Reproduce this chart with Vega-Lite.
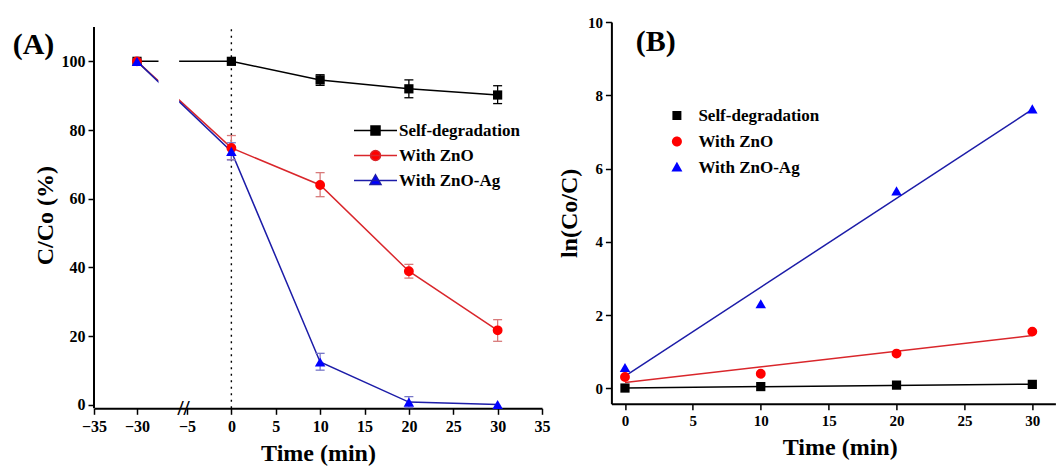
{
  "$schema": "https://vega.github.io/schema/vega-lite/v6.json",
  "background": "white",
  "autosize": {"type": "pad"},
  "padding": {"left": 12, "top": 15, "right": 0, "bottom": 0},
  "spacing": 69.4,
  "bounds": "flush",
  "config": {
    "font": "Liberation Serif",
    "view": {"stroke": null},
    "axis": {
      "labelFont": "Liberation Serif", "labelFontWeight": "bold", "labelFontSize": 15, "labelColor": "#000000",
      "titleFont": "Liberation Serif", "titleFontWeight": "bold", "titleFontSize": 24, "titleColor": "#000000",
      "domainColor": "#000000", "domainWidth": 2, "tickColor": "#000000", "tickWidth": 1.5, "tickSize": 6,
      "grid": false, "labelOverlap": false, "labelFlush": false, "labelPadding": 3
    },
    "legend": {
      "padding": 0,
      "labelFont": "Liberation Serif", "labelFontWeight": "bold", "labelFontSize": 17, "labelColor": "#000000",
      "symbolSize": 100, "labelOffset": 15, "rowPadding": 7
    }
  },
  "datasets": {
    "a_main": [
      {"series": "Self-degradation", "t": -30, "v": 100},
      {"series": "Self-degradation", "t": 0, "v": 100},
      {"series": "Self-degradation", "t": 10, "v": 94.6},
      {"series": "Self-degradation", "t": 20, "v": 92.0},
      {"series": "Self-degradation", "t": 30, "v": 90.2},
      {"series": "With ZnO", "t": -30, "v": 100},
      {"series": "With ZnO", "t": 0, "v": 74.8},
      {"series": "With ZnO", "t": 10, "v": 64.0},
      {"series": "With ZnO", "t": 20, "v": 38.9},
      {"series": "With ZnO", "t": 30, "v": 21.7},
      {"series": "With ZnO-Ag", "t": -30, "v": 100},
      {"series": "With ZnO-Ag", "t": 0, "v": 73.8},
      {"series": "With ZnO-Ag", "t": 10, "v": 12.5},
      {"series": "With ZnO-Ag", "t": 20, "v": 0.8},
      {"series": "With ZnO-Ag", "t": 30, "v": 0.1}
    ],
    "a_err": [
      {"series": "Self-degradation", "t": 10, "lo": 93.0, "hi": 96.1},
      {"series": "Self-degradation", "t": 20, "lo": 89.4, "hi": 94.6},
      {"series": "Self-degradation", "t": 30, "lo": 87.7, "hi": 92.9},
      {"series": "With ZnO", "t": 0, "lo": 71.4, "hi": 78.4},
      {"series": "With ZnO", "t": 10, "lo": 60.6, "hi": 67.6},
      {"series": "With ZnO", "t": 20, "lo": 36.9, "hi": 40.9},
      {"series": "With ZnO", "t": 30, "lo": 18.5, "hi": 24.8},
      {"series": "With ZnO-Ag", "t": 0, "lo": 71.3, "hi": 76.3},
      {"series": "With ZnO-Ag", "t": 10, "lo": 10.1, "hi": 15.0},
      {"series": "With ZnO-Ag", "t": 20, "lo": -0.8, "hi": 2.4}
    ],
    "b_main": [
      {"series": "Self-degradation", "t": 0, "v": 0.01},
      {"series": "Self-degradation", "t": 10, "v": 0.05},
      {"series": "Self-degradation", "t": 20, "v": 0.09},
      {"series": "Self-degradation", "t": 30, "v": 0.11},
      {"series": "With ZnO", "t": 0, "v": 0.31},
      {"series": "With ZnO", "t": 10, "v": 0.40},
      {"series": "With ZnO", "t": 20, "v": 0.95},
      {"series": "With ZnO", "t": 30, "v": 1.55},
      {"series": "With ZnO-Ag", "t": 0, "v": 0.57},
      {"series": "With ZnO-Ag", "t": 10, "v": 2.31},
      {"series": "With ZnO-Ag", "t": 20, "v": 5.39},
      {"series": "With ZnO-Ag", "t": 30, "v": 7.63}
    ]
  },
  "resolve": {
    "scale": {"color": "independent", "fill": "independent", "shape": "independent", "size": "independent", "stroke": "independent"},
    "legend": {"fill": "independent", "color": "independent", "shape": "independent", "size": "independent", "stroke": "independent"}
  },
  "hconcat": [
    {
      "width": 448,
      "height": 386.3,
      "layer": [
        {
          "data": {"values": [{"t": 0, "lo": -1, "hi": 110}]},
          "mark": {"type": "rule", "color": "#000000", "strokeWidth": 1.4, "strokeDash": [2, 4.5]},
          "encoding": {
            "x": {"field": "t", "type": "quantitative", "scale": {"domain": [-35, -25, -5, 35], "range": [0, 86, 93, 448], "nice": false, "zero": false},
              "axis": {
                "title": "Time (min)", "titlePadding": 7, "labelPadding": 4, "labelFontSize": 16,
                "values": [-35, -32.5, -30, -27.5, -5, -2.5, 0, 2.5, 5, 7.5, 10, 12.5, 15, 17.5, 20, 22.5, 25, 27.5, 30, 32.5, 35],
                "labelExpr": "datum.value % 5 === 0 ? datum.label : ''",
                "encoding": {"ticks": {"y2": {"condition": {"test": "datum.value % 5 === 0", "value": 6}, "value": 3}}}
              }},
            "y": {"field": "lo", "type": "quantitative", "scale": {"domain": [-1, 111.45], "nice": false, "zero": false},
              "axis": {
                "title": "C/Co (%)", "titlePadding": 4, "domain": false, "labelFontSize": 16,
                "values": [0, 10, 20, 30, 40, 50, 60, 70, 80, 90, 100, 110],
                "labelExpr": "datum.value % 20 === 0 && datum.value <= 100 ? datum.label : ''",
                "encoding": {"ticks": {"x2": {"condition": {"test": "datum.value % 20 === 0", "value": -6}, "value": -3}}}
              }},
            "y2": {"field": "hi"}
          }
        },
        {
          "data": {"values": [{"t": -35, "lo": -1, "hi": 110}]},
          "mark": {"type": "rule", "color": "#000000", "strokeWidth": 2},
          "encoding": {
            "x": {"field": "t", "type": "quantitative"},
            "y": {"field": "lo", "type": "quantitative"},
            "y2": {"field": "hi"}
          }
        },
        {
          "data": {"name": "a_main"},
          "mark": {"type": "line", "strokeWidth": 1.5},
          "encoding": {
            "x": {"field": "t", "type": "quantitative"},
            "y": {"field": "v", "type": "quantitative"},
            "color": {"field": "series", "type": "nominal", "legend": null,
              "scale": {"domain": ["With ZnO-Ag", "With ZnO", "Self-degradation"], "range": ["#1c1ca8", "#d9262b", "#000000"]}}
          }
        },
        {
          "data": {"values": [{"t1": -27.5, "t2": -25.1, "lo": 84, "hi": 103}]},
          "mark": {"type": "rect", "fill": "#ffffff"},
          "encoding": {
            "x": {"field": "t1", "type": "quantitative"},
            "x2": {"field": "t2"},
            "y": {"field": "lo", "type": "quantitative"},
            "y2": {"field": "hi"}
          }
        },
        {
          "data": {"name": "a_err"},
          "mark": {"type": "rule", "strokeWidth": 1.3},
          "encoding": {
            "x": {"field": "t", "type": "quantitative"},
            "y": {"field": "lo", "type": "quantitative"},
            "y2": {"field": "hi"},
            "stroke": {"field": "series", "type": "nominal", "legend": null,
              "scale": {"domain": ["With ZnO-Ag", "With ZnO", "Self-degradation"], "range": ["#7878c8", "#d87a7a", "#000000"]}}
          }
        },
        {
          "data": {"name": "a_err"},
          "mark": {"type": "rule", "strokeWidth": 1.3, "xOffset": -4.5, "x2Offset": 4.5},
          "encoding": {
            "x": {"field": "t", "type": "quantitative"},
            "x2": {"field": "t"},
            "y": {"field": "lo", "type": "quantitative"},
            "stroke": {"field": "series", "type": "nominal", "legend": null}
          }
        },
        {
          "data": {"name": "a_err"},
          "mark": {"type": "rule", "strokeWidth": 1.3, "xOffset": -4.5, "x2Offset": 4.5},
          "encoding": {
            "x": {"field": "t", "type": "quantitative"},
            "x2": {"field": "t"},
            "y": {"field": "hi", "type": "quantitative"},
            "stroke": {"field": "series", "type": "nominal", "legend": null}
          }
        },
        {
          "data": {"name": "a_main"},
          "mark": {"type": "point", "filled": true, "opacity": 1},
          "encoding": {
            "x": {"field": "t", "type": "quantitative"},
            "y": {"field": "v", "type": "quantitative"},
            "fill": {"field": "series", "type": "nominal",
              "scale": {"domain": ["Self-degradation", "With ZnO", "With ZnO-Ag"], "range": ["#000000", "#ff0000", "#0000ff"]},
              "legend": {
                "orient": "none", "legendX": 273, "legendY": 100, "title": null,
                "encoding": {"symbols": {
                  "shape": {"value": {"expr": "datum.value === 'Self-degradation' ? 'M-4.3,0H4.3M-0.9,-0.9H0.9V0.9H-0.9Z' : datum.value === 'With ZnO' ? 'M-4.3,0H4.3M-1,0A1,1,0,1,1,1,0A1,1,0,1,1,-1,0Z' : 'M-4.3,0H4.3M0,-1.15L1.1,0.8H-1.1Z'"}},
                  "fill": {"value": {"expr": "datum.value === 'Self-degradation' ? '#000000' : datum.value === 'With ZnO' ? '#ff0000' : '#0000ff'"}},
                  "stroke": {"value": {"expr": "datum.value === 'Self-degradation' ? '#000000' : datum.value === 'With ZnO' ? '#d9262b' : '#1c1ca8'"}},
                  "strokeWidth": {"value": 1.5}
                }}
              }},
            "shape": {"field": "series", "type": "nominal", "legend": null,
              "scale": {"domain": ["With ZnO-Ag", "With ZnO", "Self-degradation"], "range": ["triangle-up", "circle", "square"]}},
            "size": {"field": "series", "type": "nominal", "legend": null,
              "scale": {"domain": ["With ZnO-Ag", "With ZnO", "Self-degradation"], "range": [110, 85, 80]}}
          }
        },
        {
          "data": {"values": [{"t": -15, "v": -1, "s": "//"}]},
          "mark": {"type": "text", "fontSize": 22, "fontWeight": "bold", "align": "center", "baseline": "middle", "color": "#000000"},
          "encoding": {
            "x": {"field": "t", "type": "quantitative"},
            "y": {"field": "v", "type": "quantitative"},
            "text": {"field": "s"}
          }
        },
        {
          "data": {"values": [{"t": -35, "v": 110, "s": "(A)"}]},
          "mark": {"type": "text", "fontSize": 30, "fontWeight": "bold", "align": "left", "baseline": "alphabetic", "dx": -81.3, "dy": 26.8, "color": "#000000"},
          "encoding": {
            "x": {"field": "t", "type": "quantitative"},
            "y": {"field": "v", "type": "quantitative"},
            "text": {"field": "s"}
          }
        }
      ]
    },
    {
      "width": 444,
      "height": 381.8,
      "layer": [
        {
          "data": {"name": "b_main"},
          "transform": [{"regression": "v", "on": "t", "groupby": ["series"]}],
          "mark": {"type": "line", "strokeWidth": 1.5},
          "encoding": {
            "x": {"field": "t", "type": "quantitative", "scale": {"domain": [-1, 31.7], "nice": false, "zero": false},
              "axis": {
                "title": "Time (min)", "titlePadding": 7, "labelPadding": 4, "titleX": 228.3,
                "values": [0, 2.5, 5, 7.5, 10, 12.5, 15, 17.5, 20, 22.5, 25, 27.5, 30],
                "labelExpr": "datum.value % 5 === 0 ? datum.label : ''",
                "encoding": {"ticks": {"y2": {"condition": {"test": "datum.value % 5 === 0", "value": 6}, "value": 3}}}
              }},
            "y": {"field": "v", "type": "quantitative", "scale": {"domain": [-0.42, 10], "nice": false, "zero": false},
              "axis": {
                "title": "ln(Co/C)", "titlePadding": 6,
                "values": [0, 1, 2, 3, 4, 5, 6, 7, 8, 9, 10],
                "labelExpr": "datum.value % 2 === 0 ? datum.label : ''",
                "encoding": {"ticks": {"x2": {"condition": {"test": "datum.value % 2 === 0", "value": -6}, "value": -3}}}
              }},
            "color": {"field": "series", "type": "nominal", "legend": null,
              "scale": {"domain": ["With ZnO-Ag", "With ZnO", "Self-degradation"], "range": ["#1c1ca8", "#d9262b", "#000000"]}}
          }
        },
        {
          "data": {"name": "b_main"},
          "mark": {"type": "point", "filled": true, "opacity": 1},
          "encoding": {
            "x": {"field": "t", "type": "quantitative"},
            "y": {"field": "v", "type": "quantitative"},
            "fill": {"field": "series", "type": "nominal",
              "scale": {"domain": ["Self-degradation", "With ZnO", "With ZnO-Ag"], "range": ["#000000", "#ff0000", "#0000ff"]},
              "legend": {
                "orient": "none", "legendX": 57, "legendY": 85, "rowPadding": 8, "labelOffset": 13, "title": null,
                "encoding": {"symbols": {
                  "shape": {"value": {"expr": "datum.value === 'Self-degradation' ? 'M-0.9,-0.9H0.9V0.9H-0.9Z' : datum.value === 'With ZnO' ? 'M-1,0A1,1,0,1,1,1,0A1,1,0,1,1,-1,0Z' : 'M0,-1.15L1.1,0.8H-1.1Z'"}},
                  "fill": {"value": {"expr": "datum.value === 'Self-degradation' ? '#000000' : datum.value === 'With ZnO' ? '#ff0000' : '#0000ff'"}},
                  "strokeWidth": {"value": 0}
                }}
              }},
            "shape": {"field": "series", "type": "nominal", "legend": null,
              "scale": {"domain": ["With ZnO-Ag", "With ZnO", "Self-degradation"], "range": ["triangle-up", "circle", "square"]}},
            "size": {"field": "series", "type": "nominal", "legend": null,
              "scale": {"domain": ["With ZnO-Ag", "With ZnO", "Self-degradation"], "range": [110, 85, 80]}}
          }
        },
        {
          "data": {"values": [{"t": -1, "v": 10, "s": "(B)"}]},
          "mark": {"type": "text", "fontSize": 30, "fontWeight": "bold", "align": "left", "baseline": "alphabetic", "dx": 24.3, "dy": 29.3, "color": "#000000"},
          "encoding": {
            "x": {"field": "t", "type": "quantitative"},
            "y": {"field": "v", "type": "quantitative"},
            "text": {"field": "s"}
          }
        }
      ]
    }
  ]
}
